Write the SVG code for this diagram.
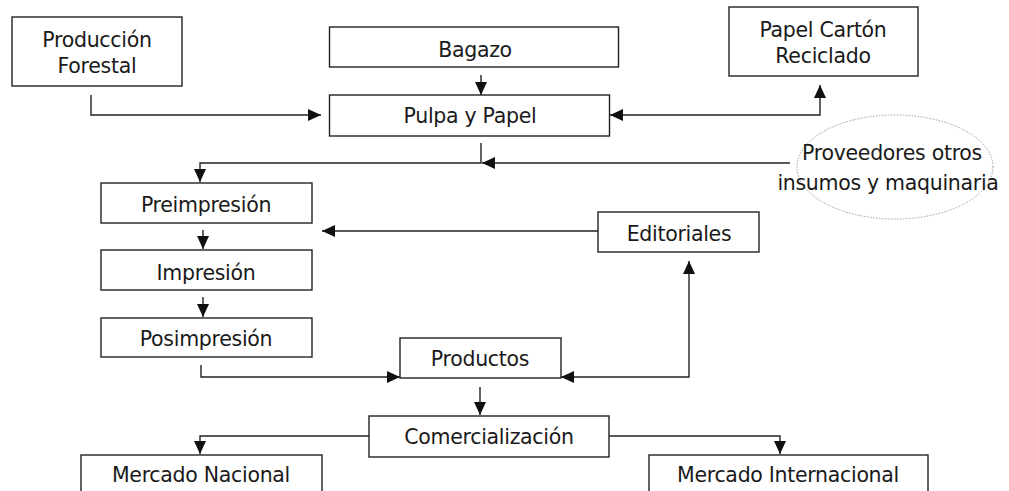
<svg xmlns="http://www.w3.org/2000/svg" width="1009" height="491" viewBox="0 0 1009 491">
<style>
.box{fill:#fff;stroke:#222;stroke-width:1.4}
.t{font-family:"DejaVu Sans",Verdana,sans-serif;font-size:20.5px;letter-spacing:-0.3px;fill:#1a1a1a;text-anchor:middle}
.c{fill:none;stroke:#222;stroke-width:1.4}
.ell{fill:none;stroke:#999;stroke-width:1;stroke-dasharray:1.5 1.5}
</style>
<defs>
<marker id="ah" markerUnits="userSpaceOnUse" markerWidth="14" markerHeight="13" refX="13" refY="6" orient="auto-start-reverse">
<path d="M0,0 L13,6 L0,12 z" fill="#111"/>
</marker>
</defs>
<rect width="1009" height="491" fill="#fff"/>
<g id="connectors">
<path class="c" d="M91,95 V115 H321" marker-end="url(#ah)"/>
<path class="c" d="M481,75 V95" marker-end="url(#ah)"/>
<path class="c" d="M610,115 H820 V85" marker-start="url(#ah)" marker-end="url(#ah)"/>
<path class="c" d="M481,143 V163 H200 V182" marker-end="url(#ah)"/>
<path class="c" d="M790,163 H482" marker-end="url(#ah)"/>
<path class="c" d="M203,230 V249" marker-end="url(#ah)"/>
<path class="c" d="M203,297 V317" marker-end="url(#ah)"/>
<path class="c" d="M598,231 H322" marker-end="url(#ah)"/>
<path class="c" d="M201,365 V377 H400" marker-end="url(#ah)"/>
<path class="c" d="M561,377 H689 V261" marker-start="url(#ah)" marker-end="url(#ah)"/>
<path class="c" d="M480,387 V415" marker-end="url(#ah)"/>
<path class="c" d="M369,436 H200 V454" marker-end="url(#ah)"/>
<path class="c" d="M609,436 H780 V454" marker-end="url(#ah)"/>
</g>
<g id="produccion-forestal">
<rect class="box" x="12" y="17" width="170" height="69"/>
<text class="t" x="97" y="47">Producción</text>
<text class="t" x="97" y="73">Forestal</text>
</g>
<g id="bagazo">
<rect class="box" x="329.5" y="27" width="289" height="40"/>
<text class="t" x="475" y="57">Bagazo</text>
</g>
<g id="pulpa-papel">
<rect class="box" x="329.5" y="95" width="280" height="41"/>
<text class="t" x="470" y="123">Pulpa y Papel</text>
</g>
<g id="papel-carton">
<rect class="box" x="729" y="7" width="189" height="69"/>
<text class="t" x="823" y="37">Papel Cartón</text>
<text class="t" x="823" y="63">Reciclado</text>
</g>
<g id="proveedores">
<ellipse class="ell" cx="895" cy="167" rx="98" ry="52"/>
<text class="t" x="892" y="160">Proveedores otros</text>
<text class="t" x="888" y="190">insumos y maquinaria</text>
</g>
<g id="preimpresion">
<rect class="box" x="101" y="183" width="211" height="40"/>
<text class="t" x="206" y="212">Preimpresión</text>
</g>
<g id="impresion">
<rect class="box" x="101" y="250" width="211" height="40"/>
<text class="t" x="206" y="280">Impresión</text>
</g>
<g id="posimpresion">
<rect class="box" x="101" y="318" width="211" height="39"/>
<text class="t" x="206" y="346">Posimpresión</text>
</g>
<g id="editoriales">
<rect class="box" x="598" y="212" width="161" height="40"/>
<text class="t" x="679" y="241">Editoriales</text>
</g>
<g id="productos">
<rect class="box" x="400" y="338" width="161" height="40"/>
<text class="t" x="480" y="366">Productos</text>
</g>
<g id="comercializacion">
<rect class="box" x="369" y="416" width="240" height="41"/>
<text class="t" x="489" y="444">Comercialización</text>
</g>
<g id="mercado-nacional">
<rect class="box" x="81" y="455" width="241" height="50"/>
<text class="t" x="201" y="482">Mercado Nacional</text>
</g>
<g id="mercado-internacional">
<rect class="box" x="649" y="455" width="279" height="50"/>
<text class="t" x="788" y="482">Mercado Internacional</text>
</g>
</svg>
